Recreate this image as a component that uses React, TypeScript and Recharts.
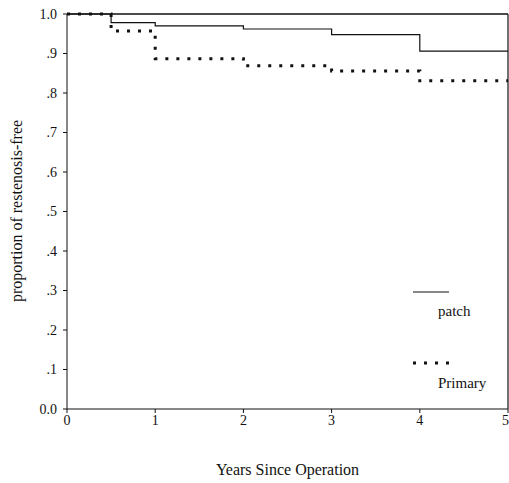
import React from "react";
import {
  LineChart,
  Line,
  XAxis,
  YAxis,
  ReferenceLine,
  Label,
} from "recharts";

// years since operation (step points) and proportion free of restenosis
const years = [0, 0.5, 1, 2, 3, 4, 5];
const patch = [1.0, 0.978, 0.97, 0.962, 0.948, 0.906, 0.906];
const primary = [1.0, 0.957, 0.887, 0.869, 0.856, 0.831, 0.831];

const xTicks = [0, 1, 2, 3, 4, 5];
const yTicks = [0, 0.1, 0.2, 0.3, 0.4, 0.5, 0.6, 0.7, 0.8, 0.9, 1.0];

const data = years.map((y, i) => ({ year: y, patch: patch[i], primary: primary[i] }));

const FONT = "'Liberation Serif', 'Times New Roman', serif";
const tickStyle = { fill: "#111", fontSize: 14, fontFamily: FONT };

const fmtY = (v: number) => {
  if (v === 0) return "0.0";
  if (v === 1) return "1.0";
  return "." + Math.round(v * 10);
};

function LegendBox() {
  return (
    <svg
      width={509}
      height={483}
      style={{ position: "absolute", left: 0, top: 0, pointerEvents: "none" }}
    >
      <line x1={413} x2={449} y1={292} y2={292} stroke="#111" strokeWidth={1.2} />
      <text x={438} y={316} fontSize={15} fontFamily={FONT} fill="#111">
        patch
      </text>
      <line
        x1={413}
        x2={449}
        y1={363}
        y2={363}
        stroke="#111"
        strokeWidth={3}
        strokeDasharray="3 8"
      />
      <text x={438} y={388} fontSize={15} fontFamily={FONT} fill="#111">
        Primary
      </text>
    </svg>
  );
}

export default function App() {
  return (
    <div style={{ position: "absolute", left: 0, top: 0, width: 509, height: 483, background: "#fff" }}>
      <LineChart
        width={509}
        height={483}
        data={data}
        margin={{ top: 14, right: 1, left: 0, bottom: 0 }}
      >
        <XAxis
          dataKey="year"
          type="number"
          domain={[0, 5]}
          ticks={xTicks}
          height={74}
          stroke="#111"
          tick={tickStyle}
          tickSize={4}
          tickMargin={2}
        >
          <Label
            value="Years Since Operation"
            position="insideBottom"
            offset={8}
            style={{ fill: "#111", fontSize: 16, fontFamily: FONT }}
          />
        </XAxis>
        <YAxis
          type="number"
          domain={[0, 1]}
          ticks={yTicks}
          width={67}
          stroke="#111"
          tick={tickStyle}
          tickFormatter={fmtY}
          tickSize={4}
          tickMargin={6}
          interval={0}
        >
          <Label
            content={() => (
              <text
                x={22}
                y={211}
                transform="rotate(-90 22 211)"
                textAnchor="middle"
                fontSize={16}
                fontFamily={FONT}
                fill="#111"
              >
                proportion of restenosis-free
              </text>
            )}
          />
        </YAxis>
        <ReferenceLine y={1} stroke="#111" strokeWidth={1.5} />
        <ReferenceLine x={5} stroke="#111" strokeWidth={1.2} />
        <Line
          dataKey="patch"
          type="stepAfter"
          stroke="#111"
          strokeWidth={1.2}
          dot={false}
          isAnimationActive={false}
        />
        <Line
          dataKey="primary"
          type="stepAfter"
          stroke="#111"
          strokeWidth={3}
          strokeDasharray="3 8"
          dot={false}
          isAnimationActive={false}
        />
      </LineChart>
      <LegendBox />
    </div>
  );
}
